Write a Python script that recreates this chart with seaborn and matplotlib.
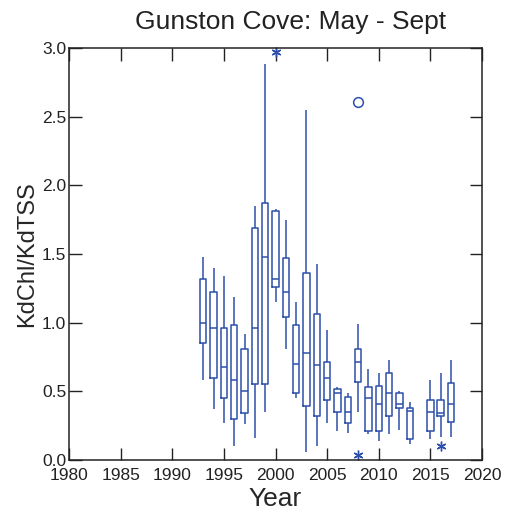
import numpy as np
import pandas as pd
import seaborn as sns
import matplotlib.pyplot as plt

# five-number summaries, one per year
years = [1993, 1994, 1995, 1996, 1997, 1998, 1999, 2000, 2001, 2002, 2003, 2004,
         2005, 2006, 2007, 2008, 2009, 2010, 2011, 2012, 2013, 2015, 2016, 2017]
whisker_lo = [0.58, 0.37, 0.27, 0.10, 0.26, 0.16, 0.35, 1.15, 0.81, 0.45, 0.06, 0.10,
              0.27, 0.21, 0.20, 0.35, 0.19, 0.14, 0.19, 0.22, 0.12, 0.15, 0.17, 0.17]
q1 = [0.85, 0.60, 0.45, 0.30, 0.34, 0.55, 0.55, 1.26, 1.04, 0.49, 0.39, 0.32,
      0.44, 0.35, 0.27, 0.57, 0.21, 0.21, 0.32, 0.38, 0.15, 0.21, 0.32, 0.28]
median = [1.00, 0.96, 0.68, 0.58, 0.50, 0.96, 1.48, 1.32, 1.22, 0.70, 0.78, 0.69,
          0.60, 0.49, 0.35, 0.71, 0.45, 0.41, 0.49, 0.41, 0.36, 0.35, 0.34, 0.41]
q3 = [1.32, 1.22, 0.96, 0.98, 0.81, 1.69, 1.87, 1.81, 1.47, 0.98, 1.36, 1.06,
      0.71, 0.52, 0.46, 0.81, 0.53, 0.54, 0.63, 0.49, 0.38, 0.44, 0.44, 0.56]
whisker_hi = [1.48, 1.40, 1.34, 1.19, 0.92, 1.85, 2.88, 1.83, 1.75, 1.15, 2.55, 1.43,
              0.95, 0.53, 0.49, 0.99, 0.66, 0.63, 0.73, 0.50, 0.42, 0.58, 0.63, 0.73]

# outside values (stars) and far outside values (circles)
star_years = [2000, 2008, 2016]
star_values = [2.97, 0.04, 0.10]
circle_years = [2008]
circle_values = [2.61]

blue = '#2d4fab'

rows = []
for i, yr in enumerate(years):
    for v in (whisker_lo[i], q1[i], median[i], q3[i], whisker_hi[i]):
        rows.append({'Year': yr, 'Value': v})
df = pd.DataFrame(rows)

sns.set_style('ticks')
plt.rcParams['font.family'] = ['Liberation Sans', 'DejaVu Sans']

fig = plt.figure(figsize=(5.09, 5.12), dpi=100)
ax = fig.add_axes([69 / 509, 1 - 460 / 512, 413 / 509, 412 / 512])

sns.boxplot(data=df, x='Year', y='Value', native_scale=True, whis=(0, 100),
            showcaps=False, fill=False, color=blue, linewidth=1.1, width=0.62,
            showfliers=False, ax=ax)
ax.plot(star_years, star_values, linestyle='none', marker=(6, 2, 0),
        markersize=7, color=blue, markeredgewidth=1.0, clip_on=False)
ax.plot(circle_years, circle_values, linestyle='none', marker='o',
        markersize=7, markerfacecolor='white', markeredgecolor=blue,
        markeredgewidth=1.1)

ax.set_xlim(1980, 2020)
ax.set_ylim(0, 3)
ax.set_xticks(np.arange(1980, 2021, 5))
ax.set_yticks(np.arange(0, 3.01, 0.5))
ax.set_yticklabels([f'{v:.1f}' for v in np.arange(0, 3.01, 0.5)])
ax.tick_params(direction='in', length=9, width=1.0, labelsize=12.5, pad=2,
               top=True, right=True, colors='#222222')
ax.tick_params(axis='x', pad=6)
for s in ax.spines.values():
    s.set_visible(True)
    s.set_linewidth(1.1)
    s.set_color('#222222')

ax.set_xlabel('Year', fontsize=19, labelpad=3)
ax.set_ylabel('KdChl/KdTSS', fontsize=17, labelpad=3)
fig.text(291 / 509, 1 - 29 / 512, 'Gunston Cove: May - Sept', fontsize=19,
         ha='center', va='baseline', color='#222222')

fig.savefig('out.png', dpi=100)
